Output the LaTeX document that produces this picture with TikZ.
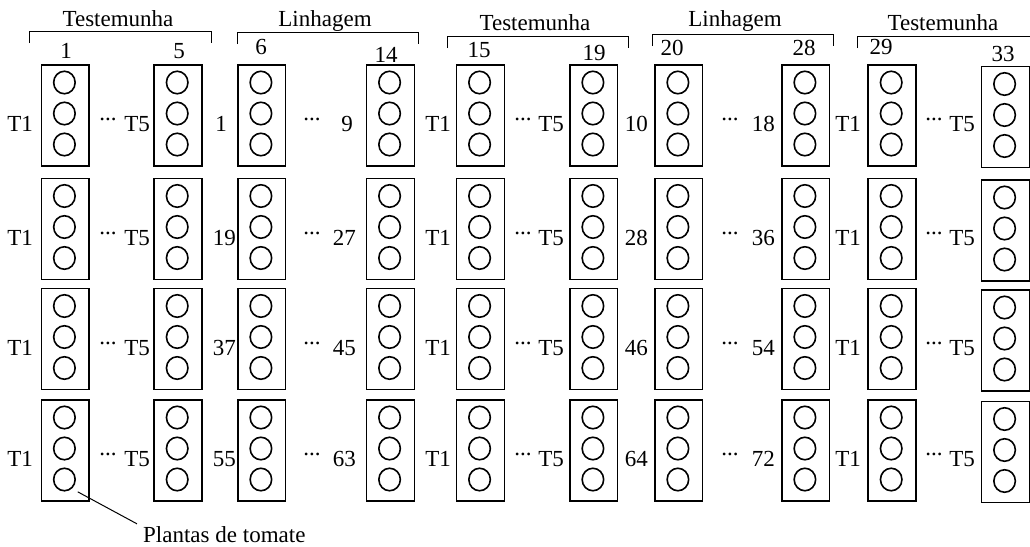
\documentclass[tikz,border=0pt]{standalone}
\usepackage{fontspec}
\setmainfont{Liberation Serif}
\usetikzlibrary{shapes.geometric}
\begin{document}
\begin{tikzpicture}[x=1pt,y=-1pt,
  txt/.style={font=\fontsize{23}{27}\selectfont, inner sep=0pt},
  lbl/.style={txt, anchor=base east},
  hdr/.style={txt, anchor=base},
  dotsn/.style={txt, anchor=base},
  plot/.style={draw, line width=1.5pt, minimum width=47.8pt, minimum height=101pt, inner sep=0pt, anchor=north west},
  plant/.style={draw, line width=1.6pt, ellipse, minimum width=21.5pt, minimum height=22.5pt, inner sep=0pt},
  brk/.style={line width=1pt}]
\useasboundingbox (0,0) rectangle (1030,546);
% plots and plants
\foreach \c/\x/\o in {1/40.5/0,2/153.3/0,3/237/0,4/365.7/0,5/455.7/0,6/569/0,7/654/0,8/781/0,9/867.3/0,10/980.7/1.5}{
  \foreach \r/\y in {1/64,2/177.5,3/287.5,4/399}{
    \node[plot] (b\c-\r) at (\x,\y+\o) {};
    \foreach \k in {1,2,3}{
      \node[plant] (p\c-\r-\k) at (\x+23.9,\y+\o+31*\k-12.5) {};
    }
  }
}
% row labels
\foreach \r/\y/\xa/\a/\xb/\b/\cc/\d in {1/64/227/1/353/9/10/18, 2/177.5/236/19/356/27/28/36, 3/287.5/236/37/356/45/46/54, 4/399/236/55/356/63/64/72}{
  \node[lbl] (ta\r) at (33,\y+67.7) {T1};
  \node[dotsn] (da\r) at (108,\y+56.5) {...};
  \node[lbl] (tb\r) at (150,\y+67.7) {T5};
  \node[lbl] (na\r) at (\xa,\y+67.7) {\a};
  \node[dotsn] (db\r) at (312,\y+56.5) {...};
  \node[lbl] (nb\r) at (\xb,\y+67.7) {\b};
  \node[lbl] (tc\r) at (451,\y+67.7) {T1};
  \node[dotsn] (dc\r) at (523,\y+56.5) {...};
  \node[lbl] (td\r) at (564,\y+67.7) {T5};
  \node[lbl] (nc\r) at (648,\y+67.7) {\cc};
  \node[dotsn] (dd\r) at (730,\y+56.5) {...};
  \node[lbl] (nd\r) at (775,\y+67.7) {\d};
  \node[lbl] (te\r) at (861,\y+67.7) {T1};
  \node[dotsn] (de\r) at (934,\y+56.5) {...};
  \node[lbl] (tf\r) at (975,\y+67.7) {T5};
}
% headers
\node[hdr] (h1) at (118,26) {Testemunha};
\node[hdr] (h2) at (325,26) {Linhagem};
\node[hdr] (h3) at (535,30) {Testemunha};
\node[hdr] (h4) at (735,27) {Linhagem};
\node[hdr] (h5) at (943,30) {Testemunha};
\draw[brk] (29,43) -- (29,31) -- (211,31) -- (211,43);
\draw[brk] (237,44) -- (237,32) -- (418,32) -- (418,44);
\draw[brk] (447,48) -- (447,36) -- (628,36) -- (628,48);
\draw[brk] (652,46) -- (652,34) -- (833,34) -- (833,46);
\draw[brk] (857,48) -- (857,36) -- (1031,36);
\node[hdr] (g1a) at (66,58) {1};
\node[hdr] (g1b) at (179,58) {5};
\node[hdr] (g2a) at (261,54) {6};
\node[hdr] (g2b) at (386,62) {14};
\node[hdr] (g3a) at (479,57) {15};
\node[hdr] (g3b) at (594,60) {19};
\node[hdr] (g4a) at (672,55) {20};
\node[hdr] (g4b) at (804,55) {28};
\node[hdr] (g5a) at (881,54) {29};
\node[hdr] (g5b) at (1003,61) {33};
% annotation
\node[txt, anchor=base west] (plantas) at (143,542) {Plantas de tomate};
\draw[line width=1pt] ([shift={(5,4)}]p1-4-3.315) -- ([shift={(-6,-2)}]plantas.north west);
\end{tikzpicture}
\end{document}
